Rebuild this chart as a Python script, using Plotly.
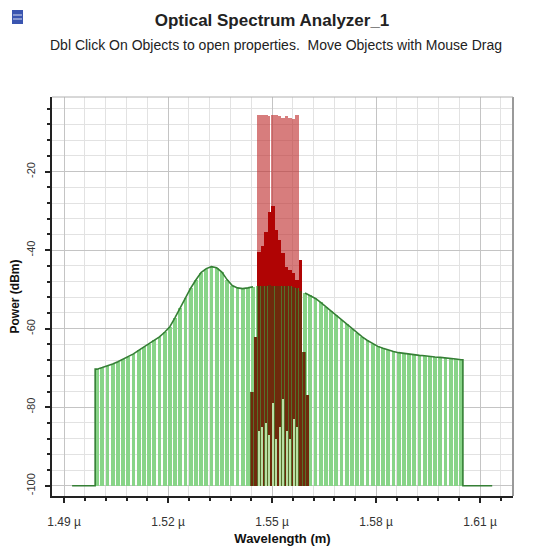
import numpy as np
import plotly.graph_objects as go

# ---------------- data ----------------
tick_vals = [1.49, 1.52, 1.55, 1.58, 1.61]
tick_labels = ["1.49 µ", "1.52 µ", "1.55 µ", "1.58 µ", "1.61 µ"]
power_ticks = [-100, -80, -60, -40, -20]

# noise (ASE) spectrum, sampled every 1.5 nm
noise_wl = np.round(1.4995 + 0.0015 * np.arange(71), 4)
noise_dbm = [-70.3, -69.9, -69.5, -69.0, -68.4, -67.8, -67.2, -66.4, -65.5, -64.7,
             -63.8, -63.0, -62.1, -60.9, -59.5, -57.2, -54.6, -52.2, -49.7, -47.6,
             -45.7, -44.7, -44.2, -44.5, -45.6, -47.5, -49.0, -49.6, -49.8, -49.6,
             -49.3, -49.1, -49.0, -48.9, -49.0, -49.0, -49.1, -49.2, -49.4, -50.0,
             -50.9, -51.5, -52.3, -53.3, -54.4, -55.4, -56.6, -57.8, -58.9, -60.0,
             -61.1, -62.1, -63.0, -63.8, -64.5, -65.0, -65.5, -65.8, -66.1, -66.3,
             -66.5, -66.6, -66.8, -66.9, -67.1, -67.2, -67.3, -67.4, -67.5, -67.7,
             -67.9]
floor_dbm = -100
floor_start, floor_stop = 1.4923, 1.6135

# signal spectrum
signal_wl = [1.5462, 1.5472, 1.5482, 1.5492, 1.5502, 1.5512, 1.5522, 1.5532,
             1.5542, 1.5552, 1.5562, 1.5572, 1.5582]
signal_max_dbm = [-5.7, -5.6, -5.7, -5.8, -5.6, -5.7, -5.8, -6.4, -5.8, -6.3,
                  -6.5, -5.7, None]
signal_dbm = [-40.4, -39.0, -35.5, -30.2, -28.7, -34.8, -37.3, -40.6, -44.2,
              -45.0, -45.7, -47.5, -42.4]

# signal + noise overlap region
overlap_wl = [1.5442, 1.5452, 1.5462, 1.5472, 1.5482, 1.5492, 1.5502, 1.5512,
              1.5522, 1.5532, 1.5542, 1.5552, 1.5562, 1.5572, 1.5582, 1.5592, 1.5602]
overlap_dbm = [-76.0, -62.0, -49.1, -49.0, -49.0, -48.9, -49.0, -49.0, -49.0,
               -49.1, -49.1, -49.2, -49.3, -49.6, -50.3, -66.0, -77.0]

# residual noise visible at the bottom of the signal band
residual_wl = [1.5462, 1.5472, 1.5482, 1.5492, 1.5502, 1.5512, 1.5522, 1.5532,
               1.5542, 1.5552, 1.5562, 1.5572]
residual_dbm = [-86, -85, -84, -87, -79, -88, -85, -78, -86, -88, -83, -85]

# ---------------- figure ----------------
fig = go.Figure()

bw_noise = 0.0011
step_sig = 0.001

# noise bars
fig.add_trace(go.Bar(
    x=noise_wl, y=np.array(noise_dbm) - floor_dbm, base=floor_dbm,
    width=bw_noise, marker=dict(color="#88d488", line=dict(width=0)),
    showlegend=False, hoverinfo="skip"))

# signal max (translucent)
sig_max = np.array([np.nan if v is None else v for v in signal_max_dbm])
pink_w = [step_sig] * len(signal_wl)
pink_w[3] = 0.0007
fig.add_trace(go.Bar(
    x=signal_wl, y=sig_max - floor_dbm, base=floor_dbm,
    width=pink_w, offset=-step_sig / 2,
    marker=dict(color="rgba(190,45,45,0.62)", line=dict(width=0)),
    showlegend=False, hoverinfo="skip"))

# signal
fig.add_trace(go.Bar(
    x=signal_wl, y=np.array(signal_dbm) - floor_dbm, base=floor_dbm,
    width=step_sig, marker=dict(color="#b00404", line=dict(width=0)),
    showlegend=False, hoverinfo="skip"))

# overlap underlay + stripes
fig.add_trace(go.Bar(
    x=overlap_wl, y=np.array(overlap_dbm) - floor_dbm, base=floor_dbm,
    width=step_sig, marker=dict(color="#566f2a", line=dict(width=0)),
    showlegend=False, hoverinfo="skip"))
fig.add_trace(go.Bar(
    x=overlap_wl, y=np.array(overlap_dbm) - floor_dbm, base=floor_dbm,
    width=0.00075, marker=dict(color="#6e2a0c", line=dict(width=0)),
    showlegend=False, hoverinfo="skip"))

# residual noise streaks
fig.add_trace(go.Bar(
    x=residual_wl, y=np.array(residual_dbm) - floor_dbm, base=floor_dbm,
    width=0.0006, marker=dict(color="#b9dea3", line=dict(width=0)),
    showlegend=False, hoverinfo="skip"))

# noise envelope outline
band_lo = signal_wl[0] - step_sig / 2
band_hi = signal_wl[-1] + step_sig / 2
env_y = np.array(noise_dbm, dtype=float)
env_y[(noise_wl > band_lo) & (noise_wl < band_hi)] = np.nan
edge_l = noise_wl[0] - bw_noise / 2
edge_r = noise_wl[-1] + bw_noise / 2
line_x = [floor_start, edge_l, edge_l] + list(noise_wl) + [edge_r, edge_r, floor_stop]
line_y = [floor_dbm, floor_dbm, noise_dbm[0]] + list(env_y) + [noise_dbm[-1], floor_dbm, floor_dbm]
fig.add_trace(go.Scatter(
    x=line_x, y=line_y, mode="lines",
    line=dict(color="#357f35", width=1.6),
    showlegend=False, hoverinfo="skip"))

# page body has an 8px default margin -> figure is 536x541 placed at (8, 8)
W, H = 536, 541
ML, MR, MT, MB = 44, 31, 89, 53
PW, PH = W - ML - MR, H - MT - MB


def px_x(page_x):
    return (page_x - 8 - ML) / PW


def px_y(page_y):
    return (H - MB - (page_y - 8)) / PH


axis_font = dict(family="Arial, Liberation Sans, sans-serif", size=11, color="#333")

fig.update_layout(
    width=W, height=H,
    margin=dict(l=ML, r=MR, t=MT, b=MB),
    paper_bgcolor="white", plot_bgcolor="white",
    barmode="overlay", bargap=0,
    font=dict(family="Arial, Liberation Sans, sans-serif", color="#222"),
    title=dict(text="<b>Optical Spectrum Analyzer_1</b>",
               font=dict(size=17, color="#222"),
               x=px_x(272), xref="paper", xanchor="center",
               y=1 - 12 / H, yanchor="middle",
               yref="container", automargin=False),
    annotations=[dict(
        text="Dbl Click On Objects to open properties.  Move Objects with Mouse Drag",
        xref="paper", yref="paper", x=px_x(276), y=px_y(45),
        xanchor="center", yanchor="middle", showarrow=False,
        font=dict(size=14, color="#222"))],
    shapes=[
        dict(type="line", xref="paper", yref="paper", x0=1, x1=1, y0=0, y1=1,
             line=dict(color="#9a9a9a", width=2)),
        dict(type="line", xref="paper", yref="paper", x0=0, x1=1, y0=1, y1=1,
             line=dict(color="#b0b0b0", width=1)),
        dict(type="rect", xref="paper", yref="paper",
             x0=px_x(12), x1=px_x(23), y0=px_y(24), y1=px_y(10),
             fillcolor="#3a55b0", line=dict(width=0)),
        dict(type="line", xref="paper", yref="paper",
             x0=px_x(13), x1=px_x(22), y0=px_y(15), y1=px_y(15),
             line=dict(color="#d8def0", width=1)),
        dict(type="line", xref="paper", yref="paper",
             x0=px_x(13), x1=px_x(22), y0=px_y(19), y1=px_y(19),
             line=dict(color="#d8def0", width=1)),
    ],
)

fig.update_xaxes(
    range=[1.4865, 1.6195], tickmode="array", tickvals=tick_vals, ticktext=tick_labels,
    ticks="outside", ticklen=5, tickwidth=1.5, tickcolor="#222",
    showline=True, linecolor="#222", linewidth=2,
    showgrid=True, gridcolor="#c4c4c4", gridwidth=1, zeroline=False,
    minor=dict(tickmode="linear", tick0=1.49, dtick=0.006, ticks="outside",
               ticklen=3, tickcolor="#222", showgrid=True, gridcolor="#e2e2e2"),
    tickfont=dict(family="Arial, Liberation Sans, sans-serif", size=12, color="#333"),
    ticklabelstandoff=9, automargin=False,
    title=dict(text="<b>Wavelength (m)</b>", font=dict(size=13, color="#111"), standoff=5),
)
fig.update_yaxes(
    range=[-102.6, -1.0], tickmode="array", tickvals=power_ticks,
    ticktext=[str(v) for v in power_ticks], tickangle=-90,
    ticks="outside", ticklen=5, tickwidth=1.5, tickcolor="#222",
    showline=True, linecolor="#222", linewidth=2,
    showgrid=True, gridcolor="#c4c4c4", gridwidth=1, zeroline=False,
    minor=dict(tickmode="linear", tick0=-100, dtick=4, ticks="outside",
               ticklen=3, tickcolor="#222", showgrid=True, gridcolor="#e2e2e2"),
    tickfont=axis_font, ticklabelstandoff=6, automargin=False,
    title=dict(text="<b>Power (dBm)</b>", font=dict(size=12, color="#111"), standoff=2),
)

fig.write_html("out.html")
